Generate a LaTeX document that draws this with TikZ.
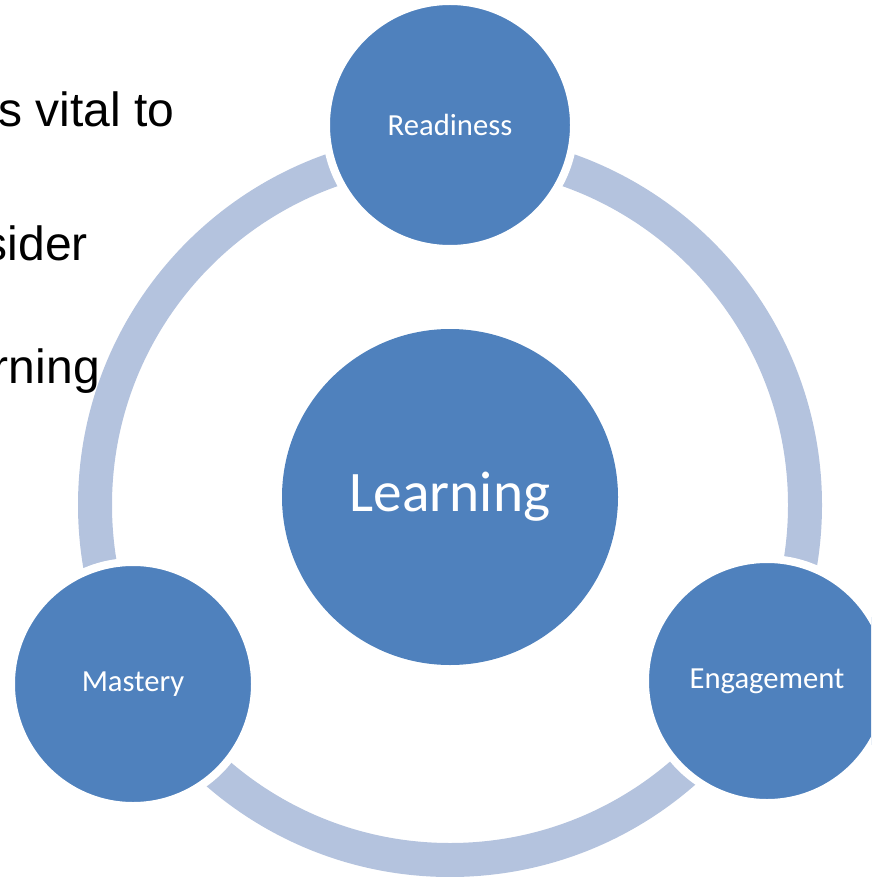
\documentclass[tikz,border=0pt]{standalone}
\usepackage{fontspec}
\setmainfont{Liberation Sans}
\newfontfamily\labelfont{Carlito}
\definecolor{cycleblue}{HTML}{4F81BD}
\definecolor{ringblue}{HTML}{B4C3DE}

\begin{document}
\begin{tikzpicture}[x=0.75pt, y=-0.75pt,
    stage/.style={circle, fill=cycleblue, draw=white, line width=6pt, inner sep=0pt,
        text=white, font=\labelfont\fontsize{23}{27}\selectfont},
    core/.style={circle, fill=cycleblue, inner sep=0pt, minimum size=252pt,
        text=white, font=\labelfont\fontsize{43}{50}\selectfont},
    note/.style={anchor=base east, inner sep=0pt, font=\fontsize{36}{43}\selectfont}]
    \useasboundingbox (0,0) rectangle (871,877);
    \clip (0,0) rectangle (871,877);

    % Draw ring
    \coordinate (hub) at (450,505);
    \draw[ringblue, line width=25.5pt] (hub) circle[radius=266.25pt];

    % Draw nodes
    \node[core] (learning) at (450,497) {Learning};
    \node[stage, minimum size=186pt] (readiness) at (450,125) {Readiness};
    \node[stage, minimum size=183pt] (engagement) at (767,681) {Engagement};
    \node[stage, minimum size=183pt] (mastery) at (133,684) {Mastery};

    % Text
    \node[note] (line1) at (175,127) {s vital to};
    \node[note] (line2) at (88,260) {sider};
    \node[note] (line3) at (100,383) {rning};
\end{tikzpicture}
\end{document}
